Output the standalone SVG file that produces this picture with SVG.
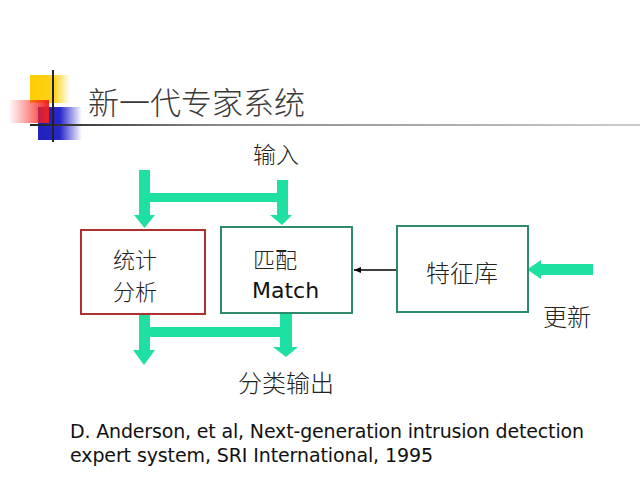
<svg xmlns="http://www.w3.org/2000/svg" width="640" height="480" viewBox="0 0 640 480">
<defs>
<linearGradient id="gy" x1="0" x2="1" y1="0" y2="0"><stop offset="0" stop-color="#FFCC00"/><stop offset="0.6" stop-color="#FFD21A"/><stop offset="1" stop-color="#FFD21A" stop-opacity="0"/></linearGradient>
<linearGradient id="gr" x1="0" x2="1" y1="0" y2="0"><stop offset="0" stop-color="#FF3030" stop-opacity="0"/><stop offset="1" stop-color="#F02020"/></linearGradient>
<linearGradient id="gb" x1="0" x2="1" y1="0" y2="0"><stop offset="0" stop-color="#2020C0"/><stop offset="0.5" stop-color="#2828C8"/><stop offset="1" stop-color="#3030D0" stop-opacity="0"/></linearGradient>
<linearGradient id="gl" x1="0" x2="1" y1="0" y2="0"><stop offset="0" stop-color="#222"/><stop offset="0.3" stop-color="#888"/><stop offset="1" stop-color="#ccc"/></linearGradient>
<marker id="ah" markerWidth="8" markerHeight="8" refX="7" refY="4" orient="auto" markerUnits="userSpaceOnUse"><path d="M0,1 L7,4 L0,7 Z" fill="#000"/></marker>
</defs>
<style>
.t{font-family:"Noto Sans CJK SC","DejaVu Sans",sans-serif;fill:#222;font-weight:300}
.l{font-family:"DejaVu Sans",sans-serif;fill:#111;font-weight:normal}
.box{fill:#fff;stroke-width:2}
.g{fill:#1EE0A2}
</style>
<rect width="640" height="480" fill="#fff"/>
<g id="decoration">
<rect x="30" y="75" width="40" height="28" fill="url(#gy)"/>
<rect x="38" y="107" width="44" height="33" fill="url(#gb)"/>
<rect x="8" y="100" width="41" height="23" fill="url(#gr)"/>
<rect x="30" y="124" width="610" height="2" fill="url(#gl)"/>
<rect x="52" y="70" width="2" height="72" fill="#222"/>
</g>
<text class="t" x="88" y="114" font-size="31" style="fill:#3a3a3a">新一代专家系统</text>
<g id="connectors">
<path class="g" d="M139,170 H150 V193 H277 V180 H288 V215 H292 L282,225 L270,215 H277 V202 H150 V215 H155 L144.5,228 L134,215 H139 Z"/>
<path class="g" d="M139,313 H150 V327 H280 V313 H292 V347 H298 L286,357 L273,347 H280 V337 H150 V350 H155 L144,365 L133,350 H139 Z"/>
<path class="g" d="M593,264 V275 H541 V279 L527,269.5 L541,260 V264 Z"/>
<line x1="397" y1="270" x2="354" y2="270" stroke="#000" stroke-width="1.3" marker-end="url(#ah)"/>
</g>
<g id="stat">
<rect class="box" x="81" y="230" width="124" height="84" stroke="#B03030"/>
<text class="t" x="113" y="268" font-size="22">统计</text>
<text class="t" x="113" y="300" font-size="22">分析</text>
</g>
<g id="match">
<rect class="box" x="221" y="227" width="131" height="86" stroke="#2E8B6A"/>
<text class="t" x="253" y="268" font-size="22">匹配</text>
<text class="l" x="252" y="298" font-size="22">Match</text>
</g>
<g id="sigdb">
<rect class="box" x="397" y="226" width="131" height="86" stroke="#2E8B6A"/>
<text class="t" x="426" y="282" font-size="24">特征库</text>
</g>
<text class="t" x="253" y="163" font-size="23">输入</text>
<text class="t" x="543" y="326" font-size="24">更新</text>
<text class="t" x="238" y="392" font-size="24">分类输出</text>
<text class="l" x="70" y="438" font-size="19" textLength="514">D. Anderson, et al, Next-generation intrusion detection</text>
<text class="l" x="70" y="462" font-size="19" textLength="363">expert system, SRI International, 1995</text>
</svg>
